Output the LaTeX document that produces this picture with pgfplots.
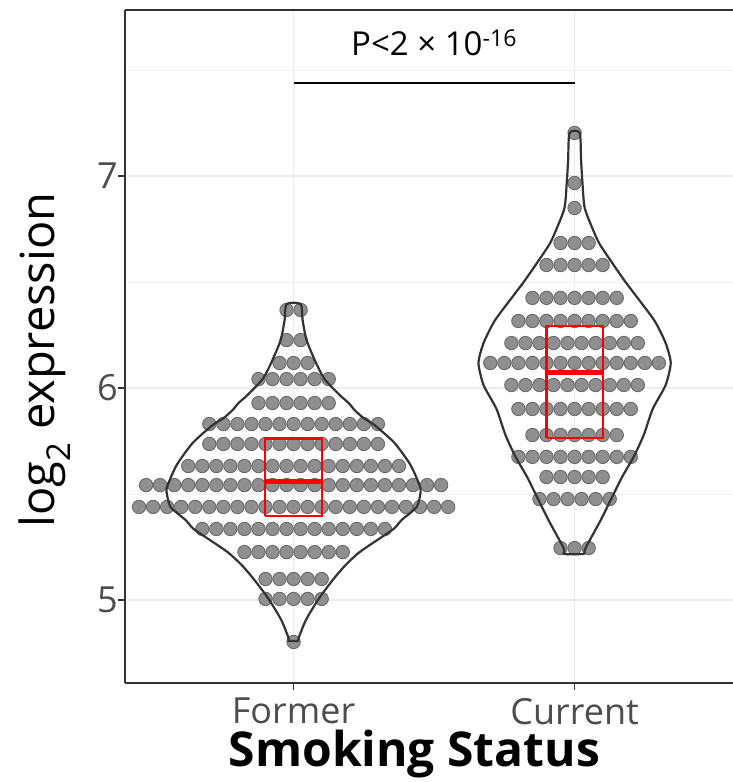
\documentclass[border=0pt]{standalone}
\usepackage{fontspec}
\setmainfont{Open Sans}
\usepackage{pgfplots}
\pgfplotsset{compat=1.18}
\definecolor{gridc}{HTML}{EBEBEB}
\definecolor{axc}{HTML}{333333}
\definecolor{tickc}{HTML}{4D4D4D}
\definecolor{dotfill}{HTML}{8F8F8F}
\definecolor{dotedge}{HTML}{6A6A6A}
\definecolor{boxred}{HTML}{FF0000}
\begin{document}
\begin{tikzpicture}
\useasboundingbox (0,0) rectangle (733pt,782pt);
\begin{axis}[
  at={(125pt,99pt)}, anchor=south west,
  scale only axis, width=608pt, height=673pt,
  xmin=0.4, xmax=2.5637, ymin=4.6085, ymax=7.783,
  axis lines*=left,
  axis line style={-, draw=axc, line width=1.4pt},
  xtick={1,2}, xticklabels={Former,Current},
  ytick={5,6,7}, yticklabels={5,6,7},
  minor ytick={5.5,6.5,7.5},
  /pgf/number format/assume math mode=true,
  tick align=outside, major tick length=7pt, minor tick length=0pt,
  tick style={draw=axc, line width=1.2pt},
  grid=both,
  major grid style={draw=gridc, line width=1.6pt},
  minor grid style={draw=gridc!70!white, line width=0.9pt},
  ticklabel style={font=\fontsize{36}{40}\selectfont, text=tickc},
  yticklabel style={anchor=east, inner sep=0pt},
  xticklabel style={anchor=north, inner sep=0pt, yshift=-8pt},
  xlabel={\bfseries Smoking Status},
  ylabel={log\textsubscript{2} expression},
  xlabel style={font=\fontsize{48}{52}\selectfont, at={(axis description cs:0.476,-0.1055)}, anchor=center},
  ylabel style={font=\fontsize{47}{51}\selectfont, at={(axis description cs:-0.1320,0.48)}, anchor=center},
  clip=false, clip mode=individual,
]
% dots (Former)
\addplot[only marks, mark=*, mark size=6.7pt, mark options={fill=dotfill, draw=dotedge, line width=0.9pt}] coordinates {
(0.975,6.368) (1.025,6.368)
(0.975,6.226) (1.025,6.226)
(0.95,6.118) (1,6.118) (1.05,6.118)
(0.875,6.042) (0.925,6.042) (0.975,6.042) (1.025,6.042) (1.075,6.042) (1.125,6.042)
(0.875,5.929) (0.925,5.929) (0.975,5.929) (1.025,5.929) (1.075,5.929) (1.125,5.929)
(0.70,5.830) (0.75,5.830) (0.80,5.830) (0.85,5.830) (0.90,5.830) (0.95,5.830) (1.00,5.830) (1.05,5.830) (1.10,5.830) (1.15,5.830) (1.20,5.830) (1.25,5.830) (1.30,5.830)
(0.70,5.736) (0.75,5.736) (0.80,5.736) (0.85,5.736) (0.90,5.736) (0.95,5.736) (1.00,5.736) (1.05,5.736) (1.10,5.736) (1.15,5.736) (1.20,5.736) (1.25,5.736) (1.30,5.736)
(0.625,5.632) (0.675,5.632) (0.725,5.632) (0.775,5.632) (0.825,5.632) (0.875,5.632) (0.925,5.632) (0.975,5.632) (1.025,5.632) (1.075,5.632) (1.125,5.632) (1.175,5.632) (1.225,5.632) (1.275,5.632) (1.325,5.632) (1.375,5.632)
(0.475,5.542) (0.525,5.542) (0.575,5.542) (0.625,5.542) (0.675,5.542) (0.725,5.542) (0.775,5.542) (0.825,5.542) (0.875,5.542) (0.925,5.542) (0.975,5.542) (1.025,5.542) (1.075,5.542) (1.125,5.542) (1.175,5.542) (1.225,5.542) (1.275,5.542) (1.325,5.542) (1.375,5.542) (1.425,5.542) (1.475,5.542) (1.525,5.542)
(0.45,5.439) (0.50,5.439) (0.55,5.439) (0.60,5.439) (0.65,5.439) (0.70,5.439) (0.75,5.439) (0.80,5.439) (0.85,5.439) (0.90,5.439) (0.95,5.439) (1.00,5.439) (1.05,5.439) (1.10,5.439) (1.15,5.439) (1.20,5.439) (1.25,5.439) (1.30,5.439) (1.35,5.439) (1.40,5.439) (1.45,5.439) (1.50,5.439) (1.55,5.439)
(0.675,5.335) (0.725,5.335) (0.775,5.335) (0.825,5.335) (0.875,5.335) (0.925,5.335) (0.975,5.335) (1.025,5.335) (1.075,5.335) (1.125,5.335) (1.175,5.335) (1.225,5.335) (1.275,5.335) (1.325,5.335)
(0.825,5.226) (0.875,5.226) (0.925,5.226) (0.975,5.226) (1.025,5.226) (1.075,5.226) (1.125,5.226) (1.175,5.226)
(0.90,5.099) (0.95,5.099) (1.00,5.099) (1.05,5.099) (1.10,5.099)
(0.90,5.005) (0.95,5.005) (1.00,5.005) (1.05,5.005) (1.10,5.005)
(1,4.802)
};
% dots (Current)
\addplot[only marks, mark=*, mark size=6.7pt, mark options={fill=dotfill, draw=dotedge, line width=0.9pt}] coordinates {
(2,7.203)
(2,6.967)
(2,6.849)
(1.95,6.684) (2,6.684) (2.05,6.684)
(1.90,6.580) (1.95,6.580) (2,6.580) (2.05,6.580) (2.10,6.580)
(1.85,6.425) (1.90,6.425) (1.95,6.425) (2,6.425) (2.05,6.425) (2.10,6.425) (2.15,6.425)
(1.80,6.316) (1.85,6.316) (1.90,6.316) (1.95,6.316) (2,6.316) (2.05,6.316) (2.10,6.316) (2.15,6.316) (2.20,6.316)
(1.775,6.212) (1.825,6.212) (1.875,6.212) (1.925,6.212) (1.975,6.212) (2.025,6.212) (2.075,6.212) (2.125,6.212) (2.175,6.212) (2.225,6.212)
(1.70,6.118) (1.75,6.118) (1.80,6.118) (1.85,6.118) (1.90,6.118) (1.95,6.118) (2,6.118) (2.05,6.118) (2.10,6.118) (2.15,6.118) (2.20,6.118) (2.25,6.118) (2.30,6.118)
(1.775,6.014) (1.825,6.014) (1.875,6.014) (1.925,6.014) (1.975,6.014) (2.025,6.014) (2.075,6.014) (2.125,6.014) (2.175,6.014) (2.225,6.014)
(1.80,5.901) (1.85,5.901) (1.90,5.901) (1.95,5.901) (2,5.901) (2.05,5.901) (2.10,5.901) (2.15,5.901) (2.20,5.901)
(1.85,5.778) (1.90,5.778) (1.95,5.778) (2,5.778) (2.05,5.778) (2.10,5.778) (2.15,5.778)
(1.80,5.675) (1.85,5.675) (1.90,5.675) (1.95,5.675) (2,5.675) (2.05,5.675) (2.10,5.675) (2.15,5.675) (2.20,5.675)
(1.90,5.580) (1.95,5.580) (2,5.580) (2.05,5.580) (2.10,5.580)
(1.875,5.476) (1.925,5.476) (1.975,5.476) (2.025,5.476) (2.075,5.476) (2.125,5.476)
(1.95,5.245) (2,5.245) (2.05,5.245)
};
% violin Former
\addplot[draw=axc, line width=2.2pt, smooth, tension=0.4, no marks] coordinates {
(1.018,4.807) (1.018,4.821) (1.044,4.906) (1.089,5.005) (1.142,5.099) (1.185,5.165) (1.237,5.228) (1.342,5.322) (1.363,5.344) (1.384,5.377) (1.438,5.439) (1.452,5.509) (1.448,5.542) (1.416,5.637) (1.359,5.741) (1.288,5.825) (1.249,5.858) (1.217,5.896) (1.196,5.929) (1.164,5.967) (1.110,6.042) (1.080,6.118) (1.046,6.226) (1.032,6.321) (1.025,6.396)
(0.975,6.396) (0.968,6.321) (0.954,6.226) (0.920,6.118) (0.890,6.042) (0.836,5.967) (0.804,5.929) (0.783,5.896) (0.751,5.858) (0.712,5.825) (0.641,5.741) (0.584,5.637) (0.552,5.542) (0.548,5.509) (0.562,5.439) (0.616,5.377) (0.637,5.344) (0.658,5.322) (0.763,5.228) (0.815,5.165) (0.858,5.099) (0.911,5.005) (0.956,4.906) (0.982,4.821) (0.982,4.807) (1.018,4.807)
};
% violin Current
\addplot[draw=axc, line width=2.2pt, smooth, tension=0.4, no marks] coordinates {
(2.036,5.217) (2.039,5.245) (2.093,5.377) (2.130,5.476) (2.169,5.580) (2.210,5.675) (2.246,5.778) (2.278,5.901) (2.324,6.014) (2.342,6.118) (2.324,6.212) (2.285,6.316) (2.224,6.425) (2.181,6.500) (2.139,6.580) (2.089,6.679) (2.066,6.745) (2.036,6.849) (2.028,6.967) (2.023,7.075) (2.018,7.203)
(1.982,7.203) (1.977,7.075) (1.972,6.967) (1.964,6.849) (1.934,6.745) (1.911,6.679) (1.861,6.580) (1.819,6.500) (1.776,6.425) (1.715,6.316) (1.676,6.212) (1.658,6.118) (1.676,6.014) (1.722,5.901) (1.754,5.778) (1.790,5.675) (1.831,5.580) (1.870,5.476) (1.907,5.377) (1.961,5.245) (1.964,5.217) (2.036,5.217)
};
% boxes
\addplot[draw=boxred, line width=2.2pt, no marks] coordinates {(0.898,5.396) (1.102,5.396) (1.102,5.762) (0.898,5.762) (0.898,5.396)};
\addplot[draw=boxred, line width=5pt, no marks] coordinates {(0.898,5.557) (1.102,5.557)};
\addplot[draw=boxred, line width=2.2pt, no marks] coordinates {(1.900,5.766) (2.102,5.766) (2.102,6.294) (1.900,6.294) (1.900,5.766)};
\addplot[draw=boxred, line width=5pt, no marks] coordinates {(1.900,6.073) (2.102,6.073)};
% significance bar
\addplot[draw=black, line width=1.6pt, no marks] coordinates {(1,7.439) (2,7.439)};
\node[anchor=base, font=\fontsize{33}{37}\selectfont, inner sep=0pt] at (axis cs:1.5,7.566) {P<2 × 10\textsuperscript{-16}};
\draw[draw=axc, line width=1.4pt] (rel axis cs:0,1) -- (rel axis cs:1,1);
\end{axis}
\end{tikzpicture}
\end{document}
